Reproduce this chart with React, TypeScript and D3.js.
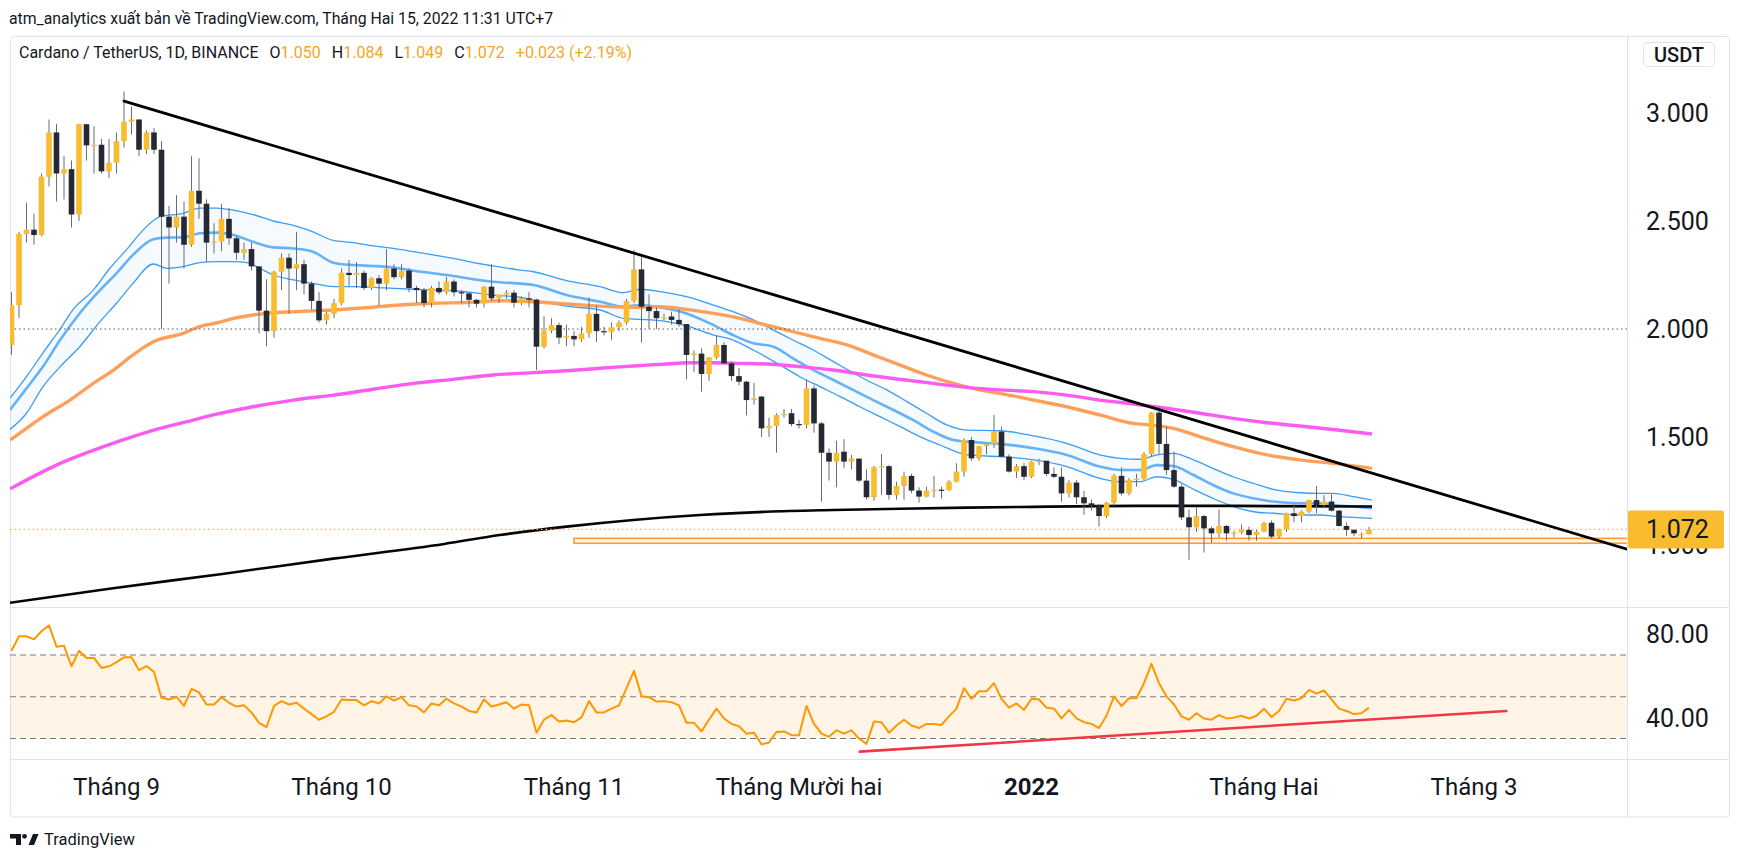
import React from 'react';
import * as d3 from 'd3';

// one candle per day, day 0 = 18 Aug 2021
const START = new Date(Date.UTC(2021, 7, 18));

// [open, high, low, close]
const ohlc: number[][] = [
  [1.926, 2.17, 1.88, 2.11], [2.11, 2.45, 2.05, 2.44], [2.44, 2.585, 2.4, 2.46], [2.46, 2.535, 2.39, 2.435],
  [2.435, 2.72, 2.43, 2.705], [2.705, 2.97, 2.66, 2.91], [2.91, 2.95, 2.59, 2.72], [2.72, 2.8, 2.6, 2.74],
  [2.74, 2.78, 2.47, 2.53], [2.53, 2.95, 2.5, 2.948], [2.948, 2.95, 2.78, 2.85], [2.85, 2.94, 2.72, 2.853],
  [2.853, 2.88, 2.72, 2.73], [2.73, 2.88, 2.7, 2.77], [2.77, 2.91, 2.72, 2.87], [2.87, 3.1, 2.84, 2.96],
  [2.96, 3.03, 2.9, 2.97], [2.97, 2.97, 2.8, 2.83], [2.83, 2.92, 2.81, 2.91], [2.91, 2.93, 2.81, 2.83],
  [2.83, 2.87, 2.0, 2.52], [2.52, 2.57, 2.21, 2.47], [2.47, 2.62, 2.4, 2.52], [2.52, 2.59, 2.28, 2.39],
  [2.39, 2.8, 2.38, 2.64], [2.64, 2.79, 2.51, 2.58], [2.58, 2.6, 2.31, 2.4], [2.4, 2.49, 2.35, 2.405],
  [2.405, 2.58, 2.36, 2.51], [2.51, 2.56, 2.39, 2.42], [2.42, 2.43, 2.32, 2.353], [2.353, 2.4, 2.32, 2.37],
  [2.37, 2.4, 2.27, 2.29], [2.29, 2.29, 1.98, 2.085], [2.085, 2.23, 1.92, 1.99], [1.99, 2.27, 1.96, 2.265],
  [2.265, 2.35, 2.18, 2.33], [2.33, 2.35, 2.07, 2.28], [2.28, 2.45, 2.18, 2.3], [2.3, 2.32, 2.16, 2.21],
  [2.21, 2.22, 2.09, 2.13], [2.13, 2.17, 2.03, 2.04], [2.04, 2.08, 2.02, 2.07], [2.07, 2.14, 2.05, 2.12],
  [2.12, 2.28, 2.11, 2.26], [2.26, 2.32, 2.2, 2.25], [2.25, 2.31, 2.19, 2.26], [2.26, 2.27, 2.18, 2.19],
  [2.19, 2.24, 2.18, 2.235], [2.235, 2.25, 2.11, 2.21], [2.21, 2.37, 2.18, 2.28], [2.28, 2.3, 2.23, 2.24],
  [2.24, 2.3, 2.23, 2.27], [2.27, 2.28, 2.17, 2.19], [2.19, 2.2, 2.12, 2.18], [2.18, 2.19, 2.1, 2.12],
  [2.12, 2.2, 2.1, 2.19], [2.19, 2.22, 2.16, 2.17], [2.17, 2.24, 2.16, 2.22], [2.22, 2.23, 2.15, 2.17],
  [2.17, 2.18, 2.12, 2.165], [2.165, 2.17, 2.1, 2.135], [2.135, 2.14, 2.1, 2.117], [2.117, 2.2, 2.1, 2.196],
  [2.196, 2.3, 2.13, 2.142], [2.142, 2.16, 2.12, 2.16], [2.16, 2.18, 2.14, 2.168], [2.168, 2.18, 2.1, 2.122],
  [2.122, 2.15, 2.11, 2.142], [2.142, 2.17, 2.1, 2.136], [2.136, 2.14, 1.81, 1.918], [1.918, 2.06, 1.91, 1.992],
  [1.992, 2.05, 1.98, 2.018], [2.018, 2.03, 1.93, 1.96], [1.96, 2.02, 1.92, 1.968], [1.968, 1.99, 1.92, 1.952],
  [1.952, 2.01, 1.94, 1.98], [1.98, 2.147, 1.96, 2.07], [2.07, 2.11, 1.94, 1.99], [1.99, 2.01, 1.97, 1.985],
  [1.985, 2.03, 1.95, 2.008], [2.008, 2.04, 1.99, 2.03], [2.03, 2.14, 2.02, 2.13], [2.13, 2.366, 2.12, 2.276],
  [2.276, 2.332, 1.937, 2.103], [2.103, 2.16, 2.0, 2.083], [2.083, 2.1, 2.0, 2.05], [2.05, 2.07, 2.04, 2.053],
  [2.058, 2.08, 2.02, 2.042], [2.042, 2.09, 2.01, 2.023], [2.023, 2.023, 1.767, 1.88], [1.88, 1.9, 1.8, 1.886],
  [1.886, 1.91, 1.71, 1.792], [1.792, 1.87, 1.76, 1.869], [1.869, 1.97, 1.86, 1.926], [1.926, 1.94, 1.84, 1.841],
  [1.841, 1.85, 1.76, 1.782], [1.782, 1.82, 1.74, 1.756], [1.756, 1.76, 1.6, 1.671], [1.671, 1.75, 1.65, 1.679],
  [1.687, 1.69, 1.5, 1.54], [1.54, 1.59, 1.5, 1.551], [1.551, 1.61, 1.427, 1.602], [1.602, 1.63, 1.59, 1.606],
  [1.61, 1.63, 1.55, 1.56], [1.56, 1.58, 1.54, 1.556], [1.556, 1.767, 1.54, 1.725], [1.725, 1.74, 1.52, 1.563],
  [1.563, 1.57, 1.201, 1.427], [1.427, 1.447, 1.298, 1.386], [1.386, 1.483, 1.267, 1.427], [1.432, 1.49, 1.355, 1.386],
  [1.386, 1.417, 1.35, 1.4], [1.4, 1.4, 1.29, 1.298], [1.298, 1.35, 1.21, 1.221], [1.221, 1.366, 1.205, 1.36],
  [1.36, 1.421, 1.232, 1.365], [1.365, 1.37, 1.21, 1.232], [1.232, 1.293, 1.21, 1.273], [1.273, 1.34, 1.21, 1.32],
  [1.32, 1.33, 1.24, 1.252], [1.252, 1.267, 1.196, 1.224], [1.224, 1.27, 1.22, 1.252], [1.252, 1.32, 1.22, 1.256],
  [1.256, 1.27, 1.215, 1.254], [1.254, 1.3, 1.25, 1.293], [1.293, 1.378, 1.29, 1.34], [1.34, 1.494, 1.316, 1.486],
  [1.486, 1.5, 1.39, 1.401], [1.401, 1.46, 1.39, 1.458], [1.458, 1.47, 1.42, 1.467], [1.467, 1.602, 1.45, 1.525],
  [1.525, 1.548, 1.405, 1.409], [1.409, 1.42, 1.335, 1.34], [1.34, 1.375, 1.31, 1.365], [1.365, 1.38, 1.3, 1.316],
  [1.316, 1.39, 1.31, 1.386], [1.386, 1.4, 1.37, 1.39], [1.39, 1.39, 1.32, 1.329], [1.329, 1.36, 1.31, 1.316],
  [1.316, 1.36, 1.2, 1.239], [1.239, 1.3, 1.22, 1.289], [1.289, 1.3, 1.19, 1.221], [1.221, 1.25, 1.14, 1.193],
  [1.193, 1.21, 1.16, 1.181], [1.181, 1.19, 1.085, 1.134], [1.134, 1.2, 1.125, 1.196], [1.196, 1.33, 1.18, 1.32],
  [1.32, 1.36, 1.23, 1.239], [1.239, 1.31, 1.23, 1.301], [1.301, 1.33, 1.27, 1.307], [1.307, 1.43, 1.3, 1.421],
  [1.421, 1.615, 1.41, 1.613], [1.613, 1.64, 1.42, 1.468], [1.468, 1.548, 1.325, 1.347], [1.347, 1.432, 1.265, 1.27],
  [1.27, 1.28, 1.115, 1.128], [1.128, 1.165, 0.931, 1.082], [1.082, 1.177, 1.06, 1.134], [1.134, 1.14, 0.965, 1.077],
  [1.077, 1.085, 1.01, 1.054], [1.054, 1.165, 1.035, 1.088], [1.088, 1.092, 1.02, 1.054], [1.054, 1.066, 1.035, 1.058],
  [1.058, 1.095, 1.05, 1.07], [1.07, 1.085, 1.02, 1.046], [1.046, 1.07, 1.02, 1.062], [1.062, 1.108, 1.058, 1.103],
  [1.103, 1.113, 1.03, 1.039], [1.039, 1.076, 1.03, 1.073], [1.073, 1.15, 1.06, 1.147], [1.147, 1.19, 1.105, 1.134],
  [1.134, 1.16, 1.105, 1.154], [1.154, 1.21, 1.148, 1.208], [1.208, 1.273, 1.147, 1.185], [1.185, 1.23, 1.17, 1.201],
  [1.201, 1.235, 1.155, 1.159], [1.159, 1.162, 1.085, 1.088], [1.088, 1.104, 1.042, 1.07], [1.07, 1.073, 1.04, 1.054],
  [1.046, 1.058, 1.032, 1.05], [1.05, 1.084, 1.049, 1.072],
];

const rsiValues = [
  72.0, 79.0, 79.0, 77.5, 81.4, 84.2, 74.0, 74.4, 64.6, 72.0,
  68.6, 68.6, 63.8, 64.6, 66.6, 68.9, 68.9, 62.7, 64.7, 61.9,
  49.5, 48.7, 49.9, 45.6, 53.7, 52.1, 46.3, 46.3, 49.8, 47.1,
  45.3, 45.9, 42.5, 37.5, 35.4, 45.6, 47.9, 46.3, 47.1, 44.3,
  41.7, 39.0, 40.6, 42.8, 48.7, 48.4, 48.4, 45.9, 47.9, 46.8,
  50.2, 48.2, 49.8, 45.9, 45.3, 42.5, 46.8, 45.9, 49.0, 46.8,
  45.3, 43.2, 42.5, 48.7, 45.3, 46.3, 47.4, 44.3, 46.3, 45.9,
  32.8, 39.0, 41.2, 38.1, 38.6, 37.8, 40.1, 47.9, 42.5, 42.5,
  44.3, 45.9, 54.1, 62.4, 50.2, 49.8, 47.7, 47.9, 47.4, 45.9,
  37.5, 37.5, 33.4, 39.0, 44.3, 39.6, 37.0, 35.9, 32.3, 32.8,
  27.2, 28.1, 33.1, 33.4, 31.6, 31.6, 45.6, 37.0, 32.3, 30.8,
  33.9, 32.3, 33.9, 30.0, 27.4, 38.1, 37.8, 32.8, 36.2, 39.0,
  36.2, 35.0, 37.0, 37.0, 36.5, 40.6, 44.3, 54.1, 49.0, 52.6,
  52.6, 56.5, 49.0, 44.8, 46.8, 43.7, 49.0, 48.7, 44.8, 44.3,
  39.6, 43.7, 39.6, 37.8, 37.0, 35.0, 40.9, 50.2, 45.6, 49.3,
  49.3, 56.5, 65.8, 56.5, 50.2, 46.3, 40.6, 39.0, 42.1, 39.6,
  39.0, 41.2, 39.6, 40.0, 40.9, 39.6, 40.9, 44.3, 40.3, 43.2,
  49.0, 48.2, 49.3, 53.3, 51.5, 53.0, 48.7, 44.3, 43.2, 41.7,
  42.1, 44.8,
];

// indicator lines: [day index, price]
const bandUpper = [
  [-0.2, 1.68], [2, 1.78], [4.2, 1.89], [6.5, 2.0], [8.2, 2.09], [10.9, 2.18], [13.1, 2.28], [15.4, 2.37],
  [17.6, 2.46], [19.8, 2.52], [22.9, 2.535], [25.1, 2.56], [27.4, 2.56], [29.6, 2.55], [32.2, 2.53], [34.9, 2.5],
  [37.6, 2.48], [40.2, 2.45], [42.9, 2.41], [45.6, 2.4], [48.2, 2.385], [50.9, 2.373], [53.6, 2.358], [56.2, 2.343],
  [58.9, 2.327], [61.6, 2.307], [64.2, 2.292], [67.8, 2.273], [69.6, 2.265], [74, 2.224], [78.5, 2.196], [81.6, 2.168],
  [83.8, 2.184], [86.5, 2.173], [90, 2.15], [93.6, 2.111], [96.2, 2.08], [98.9, 2.042], [101.6, 1.995], [104.2, 1.949],
  [106.9, 1.903], [109.6, 1.849], [114, 1.764], [116.7, 1.718], [119.4, 1.664], [122, 1.61], [124.7, 1.556],
  [127.4, 1.532], [131.8, 1.529], [136.3, 1.505], [140.7, 1.471], [145.1, 1.417], [147.8, 1.401], [150.5, 1.397],
  [152.7, 1.417], [154.9, 1.424], [157.6, 1.394], [160.2, 1.355], [162.9, 1.316], [165.6, 1.285], [168.2, 1.258],
  [171.8, 1.242], [174.5, 1.239], [176.2, 1.239], [178.9, 1.224], [181.4, 1.208],
];
const bandMiddle = [
  [-0.2, 1.625], [2, 1.725], [4.2, 1.826], [6.5, 1.95], [9.1, 2.073], [11.8, 2.18], [14, 2.258], [16.2, 2.343],
  [18.9, 2.415], [20.7, 2.423], [22.9, 2.424], [25.1, 2.443], [27.4, 2.446], [29.6, 2.435], [32.2, 2.404],
  [34.9, 2.378], [37.6, 2.373], [40.2, 2.358], [42.9, 2.307], [45.6, 2.296], [48.2, 2.292], [50.9, 2.285],
  [53.6, 2.27], [56.2, 2.258], [58.9, 2.245], [61.6, 2.23], [64.2, 2.219], [69.6, 2.204], [74, 2.157], [78.5, 2.126],
  [81.6, 2.103], [83.8, 2.111], [86.5, 2.1], [90, 2.072], [93.6, 2.018], [96.2, 1.972], [98.9, 1.934], [101.6, 1.918],
  [104.2, 1.864], [106.5, 1.818], [109.6, 1.764], [112.2, 1.718], [114.9, 1.671], [117.6, 1.625], [120.2, 1.579],
  [122.9, 1.525], [125.6, 1.486], [129.1, 1.474], [131.8, 1.468], [136.3, 1.448], [140.7, 1.417], [145.1, 1.363],
  [147.8, 1.347], [150.5, 1.347], [152.7, 1.37], [154.9, 1.366], [157.6, 1.324], [160.2, 1.278], [162.9, 1.239],
  [165.6, 1.216], [168.2, 1.201], [171.8, 1.193], [174.5, 1.193], [176.2, 1.185], [178.9, 1.178], [181.4, 1.17],
];
const bandLower = [
  [-0.2, 1.535], [2, 1.61], [4.2, 1.733], [6.5, 1.826], [9.1, 1.918], [11.8, 2.034], [14, 2.119], [16.2, 2.211],
  [18.9, 2.301], [20.7, 2.281], [22.9, 2.289], [25.1, 2.307], [27.4, 2.312], [29.6, 2.312], [31.4, 2.307],
  [33.1, 2.281], [34.9, 2.25], [37.6, 2.227], [40.2, 2.211], [42.9, 2.196], [45.6, 2.196], [48.2, 2.193],
  [50.9, 2.188], [53.6, 2.184], [56.2, 2.181], [58.9, 2.177], [61.6, 2.168], [64.2, 2.157], [67.8, 2.147],
  [69.6, 2.134], [74, 2.106], [78.5, 2.088], [81.6, 2.049], [83.8, 2.045], [86.5, 2.039], [90, 2.014], [93.6, 1.972],
  [96.2, 1.949], [98.9, 1.903], [102.5, 1.833], [105.1, 1.779], [107.8, 1.733], [110.5, 1.687], [113.1, 1.64],
  [115.8, 1.594], [118.5, 1.548], [121.1, 1.502], [123.8, 1.463], [127.4, 1.417], [131.8, 1.409], [136.3, 1.394],
  [140.7, 1.363], [145.1, 1.309], [147.8, 1.293], [150.5, 1.293], [152.7, 1.316], [154.9, 1.304], [157.6, 1.258],
  [160.2, 1.216], [162.9, 1.178], [165.6, 1.154], [168.2, 1.147], [171.8, 1.139], [174.5, 1.139], [176.2, 1.134],
  [178.9, 1.128], [181.4, 1.123],
];
const orangeMa = [
  [-0.2, 1.486], [2, 1.54], [4.2, 1.594], [7.8, 1.671], [10.9, 1.748], [13.6, 1.81], [16.2, 1.88], [18.9, 1.941],
  [22.9, 1.98], [25.1, 2.011], [27.4, 2.029], [29.6, 2.049], [32.2, 2.065], [34.9, 2.076], [37.6, 2.08],
  [40.7, 2.085], [42.9, 2.088], [47.4, 2.099], [51.8, 2.111], [56.2, 2.119], [60.7, 2.123], [65.1, 2.131],
  [69.6, 2.126], [74, 2.116], [78.5, 2.106], [82.9, 2.1], [86.5, 2.103], [90, 2.091], [93.6, 2.072], [97.1, 2.049],
  [100.7, 2.018], [104.2, 1.988], [107.8, 1.957], [111.4, 1.926], [114.9, 1.88], [118.5, 1.833], [122, 1.787],
  [125.6, 1.748], [129.1, 1.718], [131.8, 1.702], [136.3, 1.671], [140.7, 1.64], [145.1, 1.602], [149.6, 1.563],
  [152.2, 1.555], [154.9, 1.54], [158.5, 1.501], [162.9, 1.455], [167.4, 1.417], [171.8, 1.394], [176.2, 1.378],
  [181.4, 1.355],
];
const magentaMa = [
  [-0.2, 1.26], [6, 1.37], [13.3, 1.468], [19.8, 1.54], [23.4, 1.571], [26.9, 1.602], [32.2, 1.64], [37.6, 1.671],
  [42.9, 1.694], [48.2, 1.721], [53.6, 1.748], [58.9, 1.767], [64.2, 1.787], [69.6, 1.798], [74, 1.807],
  [78.5, 1.818], [82.9, 1.829], [87.4, 1.838], [90, 1.844], [93.6, 1.844], [97.1, 1.841], [100.7, 1.838],
  [105.1, 1.826], [109.6, 1.81], [114, 1.787], [118.5, 1.767], [122.9, 1.748], [127.4, 1.73], [131.8, 1.718],
  [136.3, 1.71], [140.7, 1.694], [145.1, 1.671], [149.6, 1.653], [154, 1.633], [158.5, 1.61], [162.9, 1.586],
  [167.4, 1.566], [171.8, 1.551], [176.2, 1.535], [181.4, 1.514],
];
const blackMa = [
  [-0.3, 0.732], [13.3, 0.799], [28.1, 0.866], [42.9, 0.937], [57.7, 1.005], [65.1, 1.046], [74, 1.085],
  [82.9, 1.116], [91.8, 1.139], [100.7, 1.154], [109.6, 1.162], [118.5, 1.168], [127.4, 1.173], [134.5, 1.176],
  [149.6, 1.181], [162.9, 1.181], [181.4, 1.178],
];

// drawings
const trendLine = [[15, 3.055], [215.4, 0.981]];
const rsiTrendLine = [[113.1, 23.7], [199.3, 43.2]];
const supportZone = [75, 1.008, 1.031];
const levelLine = 2.0;
const lastClose = 1.072;

const priceTicks = [3, 2.5, 2, 1.5, 1];
const rsiTicks = [80, 40];
const rsiLevels = [70, 50, 30];
const monthTicks = [
  ['2021-09-01', 'Tháng 9'], ['2021-10-01', 'Tháng 10'], ['2021-11-01', 'Tháng 11'],
  ['2021-12-01', 'Tháng Mười hai'], ['2022-01-01', '2022'], ['2022-02-01', 'Tháng Hai'], ['2022-03-01', 'Tháng 3'],
];
const legendValues = [['O', '1.050'], ['H', '1.084'], ['L', '1.049'], ['C', '1.072']];

const FONT = 'Roboto, "Noto Sans", sans-serif';
const TEXT = '#131722';
const BULL = '#f9bc2f';
const BEAR = '#262933';
const WICK = '#6a6d78';
const BORDER = '#e0e3eb';

export default function App() {
  const left = 10, right = 1627;
  const mainTop = 37, mainBottom = 607, rsiBottom = 759, axisBottom = 817;

  const x = d3.scaleLinear().domain([-0.2, 215.4]).range([left, right]);
  const y = d3.scaleLinear().domain([1, 3]).range([545, 113]);
  const yR = d3.scaleLinear().domain([30, 70]).range([738.5, 655]);
  const dayOf = (iso: string) => d3.utcDay.count(START, new Date(iso + 'T00:00:00Z'));

  const maLine = d3.line<number[]>().x(d => x(d[0])).y(d => y(d[1])).curve(d3.curveMonotoneX);
  const bandFill =
    maLine(bandUpper) + (maLine([...bandLower].reverse()) || '').replace(/^M/, 'L') + 'Z';
  const rsiLine = d3.line<number>().x((_, i) => x(i)).y(v => yR(v));

  return (
    <svg width={1741} height={861} style={{ position: 'absolute', left: 0, top: 0, background: '#fff', fontFamily: FONT }}>
      <defs>
        <clipPath id="main"><rect x={left} y={mainTop} width={right - left} height={mainBottom - mainTop} /></clipPath>
        <clipPath id="rsi"><rect x={left} y={mainBottom} width={right - left} height={rsiBottom - mainBottom} /></clipPath>
      </defs>

      <text x={9} y={24} fontSize={15.8} fill={TEXT}>atm_analytics xuất bản về TradingView.com, Tháng Hai 15, 2022 11:31 UTC+7</text>

      {/* frame */}
      <rect x={10.5} y={36.5} width={1719} height={axisBottom - 36.5} fill="none" stroke={BORDER} rx={3} />
      <line x1={right + 0.5} x2={right + 0.5} y1={36.5} y2={axisBottom} stroke={BORDER} />
      <line x1={10.5} x2={1729.5} y1={mainBottom + 0.5} y2={mainBottom + 0.5} stroke={BORDER} />
      <line x1={10.5} x2={1729.5} y1={rsiBottom + 0.5} y2={rsiBottom + 0.5} stroke={BORDER} />

      {/* main pane */}
      <g clipPath="url(#main)">
        <path d={bandFill} fill="rgba(33,150,243,0.05)" />
        <path d={maLine(bandUpper) || ''} fill="none" stroke="#3d9cf2" strokeWidth={1.3} />
        <path d={maLine(bandLower) || ''} fill="none" stroke="#3d9cf2" strokeWidth={1.3} />
        <path d={maLine(bandMiddle) || ''} fill="none" stroke="#66b2f6" strokeWidth={2.6} />
        <path d={maLine(orangeMa) || ''} fill="none" stroke="#ffa05a" strokeWidth={3.4} />
        <path d={maLine(magentaMa) || ''} fill="none" stroke="#fb5bf0" strokeWidth={3.4} />
        <path d={maLine(blackMa) || ''} fill="none" stroke="#050505" strokeWidth={2.6} />

        <line x1={left} x2={right} y1={y(levelLine)} y2={y(levelLine)} stroke="#555" strokeWidth={1.2} strokeDasharray="1.5,3" />
        <line x1={left} x2={right} y1={y(lastClose)} y2={y(lastClose)} stroke={BULL} strokeWidth={1.2} strokeDasharray="1.5,3" />
        <rect
          x={x(supportZone[0])} y={y(supportZone[2])}
          width={right - x(supportZone[0]) + 2} height={y(supportZone[1]) - y(supportZone[2])}
          fill="rgba(255,152,0,0.12)" stroke="#ff9d3a" strokeWidth={1.6}
        />

        {ohlc.map(([o, h, l, c], i) => {
          const cx = x(i);
          const top = y(Math.max(o, c));
          const bottom = y(Math.min(o, c));
          return (
            <g key={i}>
              <line x1={cx} x2={cx} y1={y(h)} y2={y(l)} stroke={WICK} strokeWidth={1} />
              <rect x={cx - 2.8} y={top} width={5.6} height={Math.max(bottom - top, 1.2)} fill={c >= o ? BULL : BEAR} />
            </g>
          );
        })}

        <line
          x1={x(trendLine[0][0])} y1={y(trendLine[0][1])} x2={x(trendLine[1][0])} y2={y(trendLine[1][1])}
          stroke="#000" strokeWidth={2.8} strokeLinecap="round"
        />
      </g>

      {/* legend */}
      <text x={19} y={58} fontSize={16} fill={TEXT}>
        Cardano / TetherUS, 1D, BINANCE
        {legendValues.map(([k, v]) => (
          <React.Fragment key={k}>
            <tspan dx={11}>{k}</tspan>
            <tspan fill="#f6a623">{v}</tspan>
          </React.Fragment>
        ))}
        <tspan dx={11} fill="#f6a623">+0.023 (+2.19%)</tspan>
      </text>

      {/* price axis */}
      <rect x={1643.5} y={42.5} width={71} height={24} rx={4} fill="#fff" stroke={BORDER} />
      <text x={1679} y={55} fontSize={20} fontWeight={500} fill={TEXT} textAnchor="middle" dy="0.36em">USDT</text>
      {priceTicks.map(p => (
        <text key={p} x={1646} y={y(p)} dy="0.36em" fontSize={25} fill={TEXT}>{p.toFixed(3)}</text>
      ))}
      <rect x={right + 1} y={y(lastClose) - 19} width={96} height={38} rx={2} fill={BULL} />
      <text x={1646} y={y(lastClose)} dy="0.36em" fontSize={25} fill={TEXT}>{lastClose.toFixed(3)}</text>

      {/* RSI pane */}
      <g clipPath="url(#rsi)">
        <rect x={left} y={yR(70)} width={right - left} height={yR(30) - yR(70)} fill="rgba(255,152,0,0.1)" />
        {rsiLevels.map(v => (
          <line key={v} x1={left} x2={right} y1={yR(v)} y2={yR(v)} stroke="#787b86" strokeWidth={1} strokeDasharray="6,4" />
        ))}
        <path d={rsiLine(rsiValues) || ''} fill="none" stroke="#ff9800" strokeWidth={2} strokeLinejoin="round" />
        <line
          x1={x(rsiTrendLine[0][0])} y1={yR(rsiTrendLine[0][1])} x2={x(rsiTrendLine[1][0])} y2={yR(rsiTrendLine[1][1])}
          stroke="#f23645" strokeWidth={2.6} strokeLinecap="round"
        />
      </g>
      {rsiTicks.map(v => (
        <text key={v} x={1646} y={yR(v)} dy="0.36em" fontSize={25} fill={TEXT}>{v.toFixed(2)}</text>
      ))}

      {/* time axis */}
      {monthTicks.map(([iso, label]) => (
        <text key={iso} x={x(dayOf(iso))} y={786} dy="0.36em" textAnchor="middle" fontSize={24}
          fontWeight={label === '2022' ? 700 : 400} fill={TEXT}>{label}</text>
      ))}

      {/* footer logo */}
      <g fill={TEXT}>
        <path d="M10,834 H21 V845 H16 V838.5 H10 Z" />
        <circle cx={24.5} cy={836.3} r={2.4} />
        <path d="M28.5,845 L33,834 H38.5 L34,845 Z" />
      </g>
      <text x={44} y={845} fontSize={16.5} fill={TEXT}>TradingView</text>
    </svg>
  );
}
